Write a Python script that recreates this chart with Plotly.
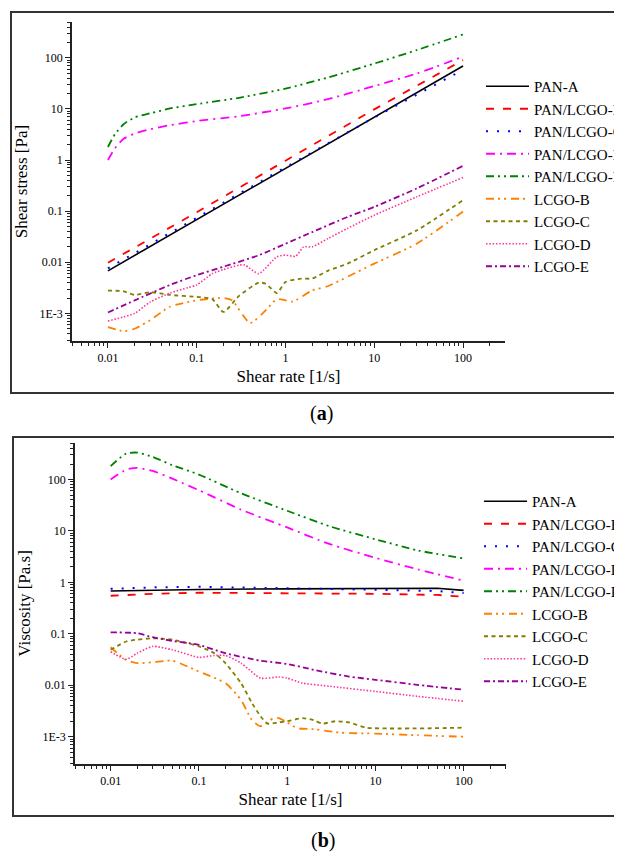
import plotly.graph_objects as go

# ---------------- data: panel (a) shear stress [Pa] ----------------
names = ["PAN-A", "PAN/LCGO-B", "PAN/LCGO-C", "PAN/LCGO-D", "PAN/LCGO-E",
         "LCGO-B", "LCGO-C", "LCGO-D", "LCGO-E"]

a_x_pan = [0.01, 0.1, 1, 10, 100]
a_pan_a = [0.0068, 0.068, 0.69, 7.0, 69]
a_pan_lcgo_b = [0.0098, 0.095, 0.97, 9.8, 90]
a_pan_lcgo_c = [0.0076, 0.075, 0.72, 6.8, 58]

a_x_de = [0.01, 0.012, 0.015, 0.02, 0.03, 0.05, 0.1, 0.3, 1, 3, 10, 30, 100]
a_pan_lcgo_d = [1.0, 1.7, 2.6, 3.3, 4.0, 4.8, 5.8, 7.2, 10.2, 15.5, 28, 49, 105]
a_pan_lcgo_e = [1.8, 3.2, 5.0, 6.8, 8.2, 10.2, 12.4, 16.5, 25, 41, 77, 141, 286]

a_x_lcgo_b = [0.01, 0.015, 0.02, 0.03, 0.05, 0.1, 0.2, 0.25, 0.4, 0.6, 0.8, 1, 1.2, 2, 3, 5, 10, 30, 100]
a_lcgo_b = [0.00054, 0.00045, 0.0005, 0.00074, 0.00135, 0.0018, 0.002, 0.0018, 0.00065, 0.00115,
            0.0019, 0.0018, 0.0017, 0.0028, 0.0034, 0.0052, 0.0094, 0.023, 0.098]

a_x_lcgo_c = [0.01, 0.015, 0.02, 0.03, 0.05, 0.1, 0.15, 0.2, 0.3, 0.5, 0.6, 0.8, 1, 1.5, 2, 3, 5, 10, 30, 100]
a_lcgo_c = [0.0028, 0.0027, 0.0023, 0.0026, 0.0023, 0.0021, 0.0019, 0.00107, 0.0022, 0.004,
            0.0038, 0.0025, 0.0041, 0.0048, 0.0048, 0.0068, 0.0094, 0.0172, 0.042, 0.164]

a_x_lcgo_d = [0.01, 0.015, 0.02, 0.03, 0.05, 0.08, 0.1, 0.15, 0.2, 0.3, 0.35, 0.5, 0.8, 1, 1.3,
              1.6, 2, 3, 5, 10, 30, 100]
a_lcgo_d = [0.00071, 0.00085, 0.001, 0.00168, 0.0025, 0.0032, 0.0036, 0.006, 0.0072, 0.0088,
            0.0088, 0.006, 0.0128, 0.0138, 0.0131, 0.02, 0.02, 0.029, 0.046, 0.083, 0.19, 0.455]

a_x_lcgo_e = [0.01, 0.02, 0.05, 0.1, 0.2, 0.5, 1, 2, 5, 10, 30, 100]
a_lcgo_e = [0.00104, 0.0018, 0.0036, 0.0056, 0.0082, 0.0137, 0.023, 0.039, 0.077, 0.121, 0.277, 0.77]

# ---------------- data: panel (b) viscosity [Pa.s] ----------------
b_x_pan = [0.01, 0.03, 0.1, 1, 10, 50, 100]
b_pan_a = [0.68, 0.71, 0.73, 0.75, 0.77, 0.77, 0.70]
b_pan_lcgo_b = [0.55, 0.60, 0.63, 0.62, 0.60, 0.57, 0.53]
b_pan_lcgo_c = [0.75, 0.80, 0.82, 0.78, 0.72, 0.68, 0.62]

b_x_de = [0.01, 0.015, 0.02, 0.03, 0.05, 0.1, 0.3, 1, 3, 10, 30, 100]
b_pan_lcgo_d = [100, 156, 168, 147, 104, 62, 26, 11.7, 5.6, 3.0, 1.8, 1.08]
b_pan_lcgo_e = [182, 320, 334, 275, 190, 125, 54, 24.7, 12.4, 6.9, 4.2, 2.93]

b_x_lcgo_b = [0.01, 0.015, 0.02, 0.03, 0.05, 0.1, 0.2, 0.3, 0.4, 0.5, 0.7, 0.8, 1, 1.3, 2, 4, 10, 30, 100]
b_lcgo_b = [0.055, 0.031, 0.027, 0.028, 0.03, 0.0185, 0.011, 0.0052, 0.0021, 0.0016, 0.0023,
            0.0023, 0.0019, 0.00147, 0.0014, 0.0012, 0.00115, 0.00107, 0.001]

b_x_lcgo_c = [0.01, 0.015, 0.02, 0.03, 0.05, 0.1, 0.15, 0.2, 0.3, 0.4, 0.5, 0.6, 0.8, 1, 1.5,
              2, 2.5, 3.5, 5, 8, 100]
b_lcgo_c = [0.049, 0.071, 0.077, 0.082, 0.077, 0.057, 0.042, 0.027, 0.011, 0.0045, 0.0025,
            0.0018, 0.0019, 0.002, 0.0023, 0.0021, 0.0018, 0.002, 0.0019, 0.0015, 0.0015]

b_x_lcgo_d = [0.01, 0.015, 0.02, 0.03, 0.05, 0.1, 0.15, 0.2, 0.3, 0.5, 0.8, 1, 1.5, 3, 10, 30, 100]
b_lcgo_d = [0.045, 0.032, 0.042, 0.057, 0.049, 0.035, 0.038, 0.038, 0.027, 0.0138, 0.0145,
            0.0138, 0.011, 0.0096, 0.0076, 0.0061, 0.0049]

b_x_lcgo_e = [0.01, 0.02, 0.03, 0.05, 0.1, 0.2, 0.5, 1, 2, 5, 10, 30, 100]
b_lcgo_e = [0.107, 0.103, 0.086, 0.073, 0.061, 0.042, 0.030, 0.026, 0.020, 0.0148, 0.0128, 0.0102, 0.0082]

x_tickvals = [0.01, 0.1, 1, 10, 100]
x_ticktext = ["0.01", "0.1", "1", "10", "100"]
y_tickvals = [0.001, 0.01, 0.1, 1, 10, 100]
y_ticktext = ["1E-3", "0.01", "0.1", "1", "10", "100"]

# ---------------- styles ----------------
colors = ["#000000", "#FF0000", "#0000FF", "#FF00FF", "#008000",
          "#FF8000", "#808000", "#FF3399", "#990099"]
dashes = ["solid", "8px,9px", "2px,9px", "9px,5px,2px,5px", "8px,4px,2px,4px,2px,4px",
          "8px,4px,2px,4px,2px,5px", "4px,3.5px", "1.5px,1.8px", "6px,3px,2px,3px"]
widths = [1.6, 1.8, 2, 1.8, 1.8, 1.8, 1.8, 1.6, 1.8]
smooth = [False, False, False, True, True, True, True, True, True]

FONT = "Liberation Serif"
# page body has an 8px margin: the figure is placed at (8, 8) in the window
OFF = 8
W, H = 622 - OFF, 852 - OFF

panel_a = [(a_x_pan, a_pan_a), (a_x_pan, a_pan_lcgo_b), (a_x_pan, a_pan_lcgo_c),
           (a_x_de, a_pan_lcgo_d), (a_x_de, a_pan_lcgo_e), (a_x_lcgo_b, a_lcgo_b),
           (a_x_lcgo_c, a_lcgo_c), (a_x_lcgo_d, a_lcgo_d), (a_x_lcgo_e, a_lcgo_e)]
panel_b = [(b_x_pan, b_pan_a), (b_x_pan, b_pan_lcgo_b), (b_x_pan, b_pan_lcgo_c),
           (b_x_de, b_pan_lcgo_d), (b_x_de, b_pan_lcgo_e), (b_x_lcgo_b, b_lcgo_b),
           (b_x_lcgo_c, b_lcgo_c), (b_x_lcgo_d, b_lcgo_d), (b_x_lcgo_e, b_lcgo_e)]

fig = go.Figure()
for i, (xs, ys) in enumerate(panel_a):
    fig.add_trace(go.Scatter(
        x=xs, y=ys, mode="lines", name=names[i], xaxis="x", yaxis="y", legend="legend",
        line=dict(color=colors[i], dash=dashes[i], width=widths[i],
                  shape="spline" if smooth[i] else "linear", smoothing=0.6)))
for i, (xs, ys) in enumerate(panel_b):
    fig.add_trace(go.Scatter(
        x=xs, y=ys, mode="lines", name=names[i], xaxis="x2", yaxis="y2", legend="legend2",
        line=dict(color=colors[i], dash=dashes[i], width=widths[i],
                  shape="spline" if smooth[i] else "linear", smoothing=0.6)))


def px_x(p):
    return (p - OFF) / W


def px_y(p):
    return 1 - (p - OFF) / H


axis_common = dict(type="log", showgrid=False, zeroline=False, showline=True,
                   linecolor="#222", linewidth=1.5, ticks="outside", ticklen=5,
                   tickwidth=1.3, tickcolor="#222", mirror=False,
                   tickfont=dict(family=FONT, size=12, color="#000"),
                   minor=dict(ticks="outside", ticklen=3, tickwidth=1, tickcolor="#222",
                              dtick="D1", showgrid=False))

TITLE_FONT = dict(family=FONT, size=17, color="#000")
xa = dict(axis_common, tickmode="array", tickvals=x_tickvals, ticktext=x_ticktext,
          title=dict(text="Shear rate [1/s]", font=TITLE_FONT, standoff=6))
ya = dict(axis_common, tickmode="array", tickvals=y_tickvals, ticktext=y_ticktext)

fig.update_layout(
    width=W, height=H,
    margin=dict(l=0, r=0, t=0, b=0, autoexpand=False),
    paper_bgcolor="white", plot_bgcolor="white",
    font=dict(family=FONT, color="#000"),
    xaxis=dict(xa, domain=[px_x(72), px_x(505)], range=[-2.405, 2.473], anchor="y"),
    yaxis=dict(ya, domain=[px_y(341), px_y(22)], range=[-3.54, 2.70], anchor="x",
               title=dict(text="Shear stress [Pa]", font=TITLE_FONT, standoff=8)),
    xaxis2=dict(xa, domain=[px_x(75), px_x(506)], range=[-2.404, 2.48], anchor="y2"),
    yaxis2=dict(ya, domain=[px_y(764), px_y(443)], range=[-3.53, 2.71], anchor="x2",
                title=dict(text="Viscosity [Pa.s]", font=TITLE_FONT, standoff=8)),
    legend=dict(x=px_x(481), y=px_y(70), xanchor="left", yanchor="top",
                font=dict(family=FONT, size=15, color="#000"), itemwidth=43,
                bgcolor="rgba(0,0,0,0)", tracegroupgap=0),
    legend2=dict(x=px_x(479), y=px_y(485), xanchor="left", yanchor="top",
                 font=dict(family=FONT, size=15, color="#000"), itemwidth=43,
                 bgcolor="rgba(0,0,0,0)", tracegroupgap=0),
    shapes=[
        dict(type="rect", xref="paper", yref="paper", x0=px_x(11), x1=px_x(700),
             y0=px_y(393), y1=px_y(12), line=dict(color="#333", width=2)),
        dict(type="rect", xref="paper", yref="paper", x0=px_x(13), x1=px_x(700),
             y0=px_y(816), y1=px_y(437), line=dict(color="#333", width=2)),
    ],
    annotations=[
        dict(text="(<b>a</b>)", xref="paper", yref="paper", x=px_x(321), y=px_y(413),
             xanchor="center", yanchor="middle", showarrow=False,
             font=dict(family=FONT, size=20, color="#000")),
        dict(text="(<b>b</b>)", xref="paper", yref="paper", x=px_x(323), y=px_y(840),
             xanchor="center", yanchor="middle", showarrow=False,
             font=dict(family=FONT, size=20, color="#000")),
    ],
)

fig.write_html("out.html")
